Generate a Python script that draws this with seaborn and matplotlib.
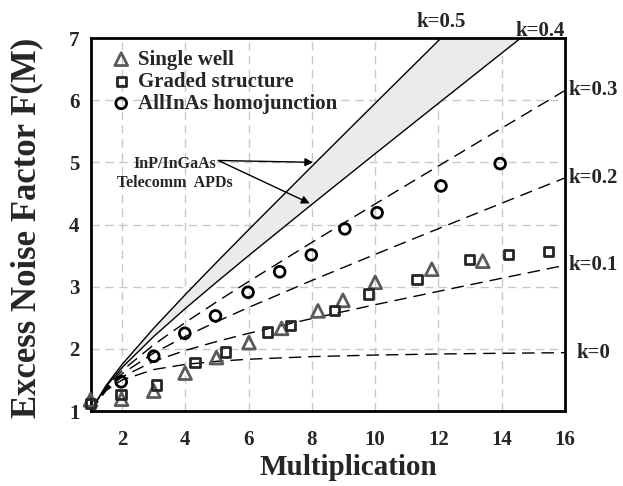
import numpy as np
import pandas as pd
import matplotlib
matplotlib.use("Agg")
import matplotlib.pyplot as plt
import seaborn as sns

# Multiplication values where the k-curves are tabulated
mult = [1, 1.5, 2, 3, 4, 5, 6, 8, 10, 12, 14, 16]
# Excess noise factor for each ionization ratio k
f_k0 = [1.0, 1.333, 1.5, 1.667, 1.75, 1.8, 1.833, 1.875, 1.9, 1.917, 1.929, 1.938]
f_k01 = [1.0, 1.35, 1.55, 1.8, 1.975, 2.12, 2.25, 2.488, 2.71, 2.925, 3.136, 3.344]
f_k02 = [1.0, 1.367, 1.6, 1.933, 2.2, 2.44, 2.667, 3.1, 3.52, 3.933, 4.343, 4.75]
f_k03 = [1.0, 1.383, 1.65, 2.067, 2.425, 2.76, 3.083, 3.713, 4.33, 4.942, 5.55, 6.156]
f_k04 = [1.0, 1.4, 1.7, 2.2, 2.65, 3.08, 3.5, 4.325, 5.14, 5.95, 6.757, 7.563]
f_k05 = [1.0, 1.417, 1.75, 2.333, 2.875, 3.4, 3.917, 4.938, 5.95, 6.958, 7.964, 8.969]

# Measured devices
single_well_m = [1.0, 1.98, 3.0, 3.99, 4.98, 6.01, 7.04, 8.19, 8.98, 10.0, 11.79, 13.4]
single_well_f = [1.18, 1.19, 1.32, 1.61, 1.86, 2.10, 2.33, 2.61, 2.78, 3.07, 3.28, 3.41]
graded_m = [1.0, 1.96, 3.09, 4.30, 5.27, 6.60, 7.33, 8.72, 9.79, 11.32, 12.98, 14.21, 15.47]
graded_f = [1.12, 1.27, 1.42, 1.78, 1.95, 2.27, 2.38, 2.62, 2.88, 3.12, 3.44, 3.52, 3.57]
allinas_m = [1.97, 3.0, 3.98, 4.95, 5.98, 6.98, 7.98, 9.04, 10.06, 12.08, 13.95]
allinas_f = [1.47, 1.88, 2.25, 2.53, 2.91, 3.24, 3.51, 3.93, 4.19, 4.62, 4.98]

x_ticks = [2, 4, 6, 8, 10, 12, 14, 16]
y_ticks = [1, 2, 3, 4, 5, 6, 7]

sns.set_style("white")
plt.rcParams["font.family"] = ["Liberation Serif", "DejaVu Serif"]
plt.rcParams["font.weight"] = "bold"

fig = plt.figure(figsize=(6.23, 4.86), dpi=100)
ax = fig.add_axes([0.1453, 0.1543, 0.7616, 0.7675])

# shaded band for commercial InP/InGaAs APDs (k = 0.4 .. 0.5)
ax.fill_between(mult, f_k04, f_k05, color="#ebebeb", lw=0, zorder=1)
for f in (f_k04, f_k05):
    sns.lineplot(x=mult, y=f, ax=ax, color="black", lw=1.0,
                 estimator=None, sort=False, zorder=2)
for f in (f_k0, f_k01, f_k02, f_k03):
    sns.lineplot(x=mult, y=f, ax=ax, color="black", lw=1.0,
                 linestyle=(0, (9, 5)), estimator=None, sort=False, zorder=2)

sns.scatterplot(x=single_well_m, y=single_well_f, ax=ax, marker="^", s=85,
                facecolor="none", edgecolor="#5a5a5a", linewidth=2.0,
                label="Single well", zorder=4, clip_on=False)
sns.scatterplot(x=graded_m, y=graded_f, ax=ax, marker="s", s=45,
                facecolor="none", edgecolor="#262626", linewidth=2.0,
                label="Graded structure", zorder=4, clip_on=False)
sns.scatterplot(x=allinas_m, y=allinas_f, ax=ax, marker="o", s=60,
                facecolor="none", edgecolor="black", linewidth=2.0,
                label="AllInAs homojunction", zorder=4, clip_on=False)

ax.set_xlim(1, 16)
ax.set_ylim(1, 7)
ax.set_xticks(x_ticks)
ax.set_yticks(y_ticks)
ax.tick_params(axis="x", length=0, pad=14, labelsize=15)
ax.tick_params(axis="y", direction="in", length=5, width=1, pad=8, labelsize=15)
for lab in ax.get_xticklabels() + ax.get_yticklabels():
    lab.set_fontweight("bold")

ax.grid(True, color="#c8c8c8", linestyle=(0, (6, 4)), lw=1.0, zorder=0)
ax.set_axisbelow(True)
for sp in ax.spines.values():
    sp.set_visible(True)
    sp.set_color("black")
    sp.set_linewidth(2.0)

ax.set_xlabel("Multiplication", fontsize=21, fontweight="bold")
ax.xaxis.set_label_coords(0.543, -0.115)
ax.set_ylabel("Excess Noise Factor F(M)", fontsize=25, fontweight="bold")
ax.yaxis.set_label_coords(-0.10, 0.49)

leg = ax.legend(loc="upper left", bbox_to_anchor=(0.012, 1.008), frameon=False,
                fontsize=15, handlelength=1.0, handletextpad=0.3,
                labelspacing=0.1, borderaxespad=0.3)
for t in leg.get_texts():
    t.set_fontweight("bold")

# curve labels
ax.text(12.1, 7.25, "k=0.5", ha="center", va="center", fontsize=15, fontweight="bold", clip_on=False)
ax.text(15.22, 7.12, "k=0.4", ha="center", va="center", fontsize=15, fontweight="bold", clip_on=False)
ax.text(16.12, 6.156, "k=0.3", ha="left", va="center", fontsize=15, fontweight="bold", clip_on=False)
ax.text(16.12, 4.75, "k=0.2", ha="left", va="center", fontsize=15, fontweight="bold", clip_on=False)
ax.text(16.12, 3.344, "k=0.1", ha="left", va="center", fontsize=15, fontweight="bold", clip_on=False)
ax.text(16.35, 1.938, "k=0", ha="left", va="center", fontsize=15, fontweight="bold", clip_on=False)

# telecom APD callout
ax.text(3.67, 4.82, "InP/InGaAs\nTelecomm  APDs", ha="center", va="center",
        fontsize=11.5, fontweight="bold", linespacing=1.25)
arrow = dict(arrowstyle="-|>", color="black", lw=1.0, mutation_scale=12, shrinkA=0, shrinkB=0)
ax.annotate("", xy=(8.04, 5.0), xytext=(5.04, 5.03), arrowprops=arrow)
ax.annotate("", xy=(7.93, 4.34), xytext=(5.04, 5.03), arrowprops=arrow)

fig.savefig("out.png", dpi=100)
